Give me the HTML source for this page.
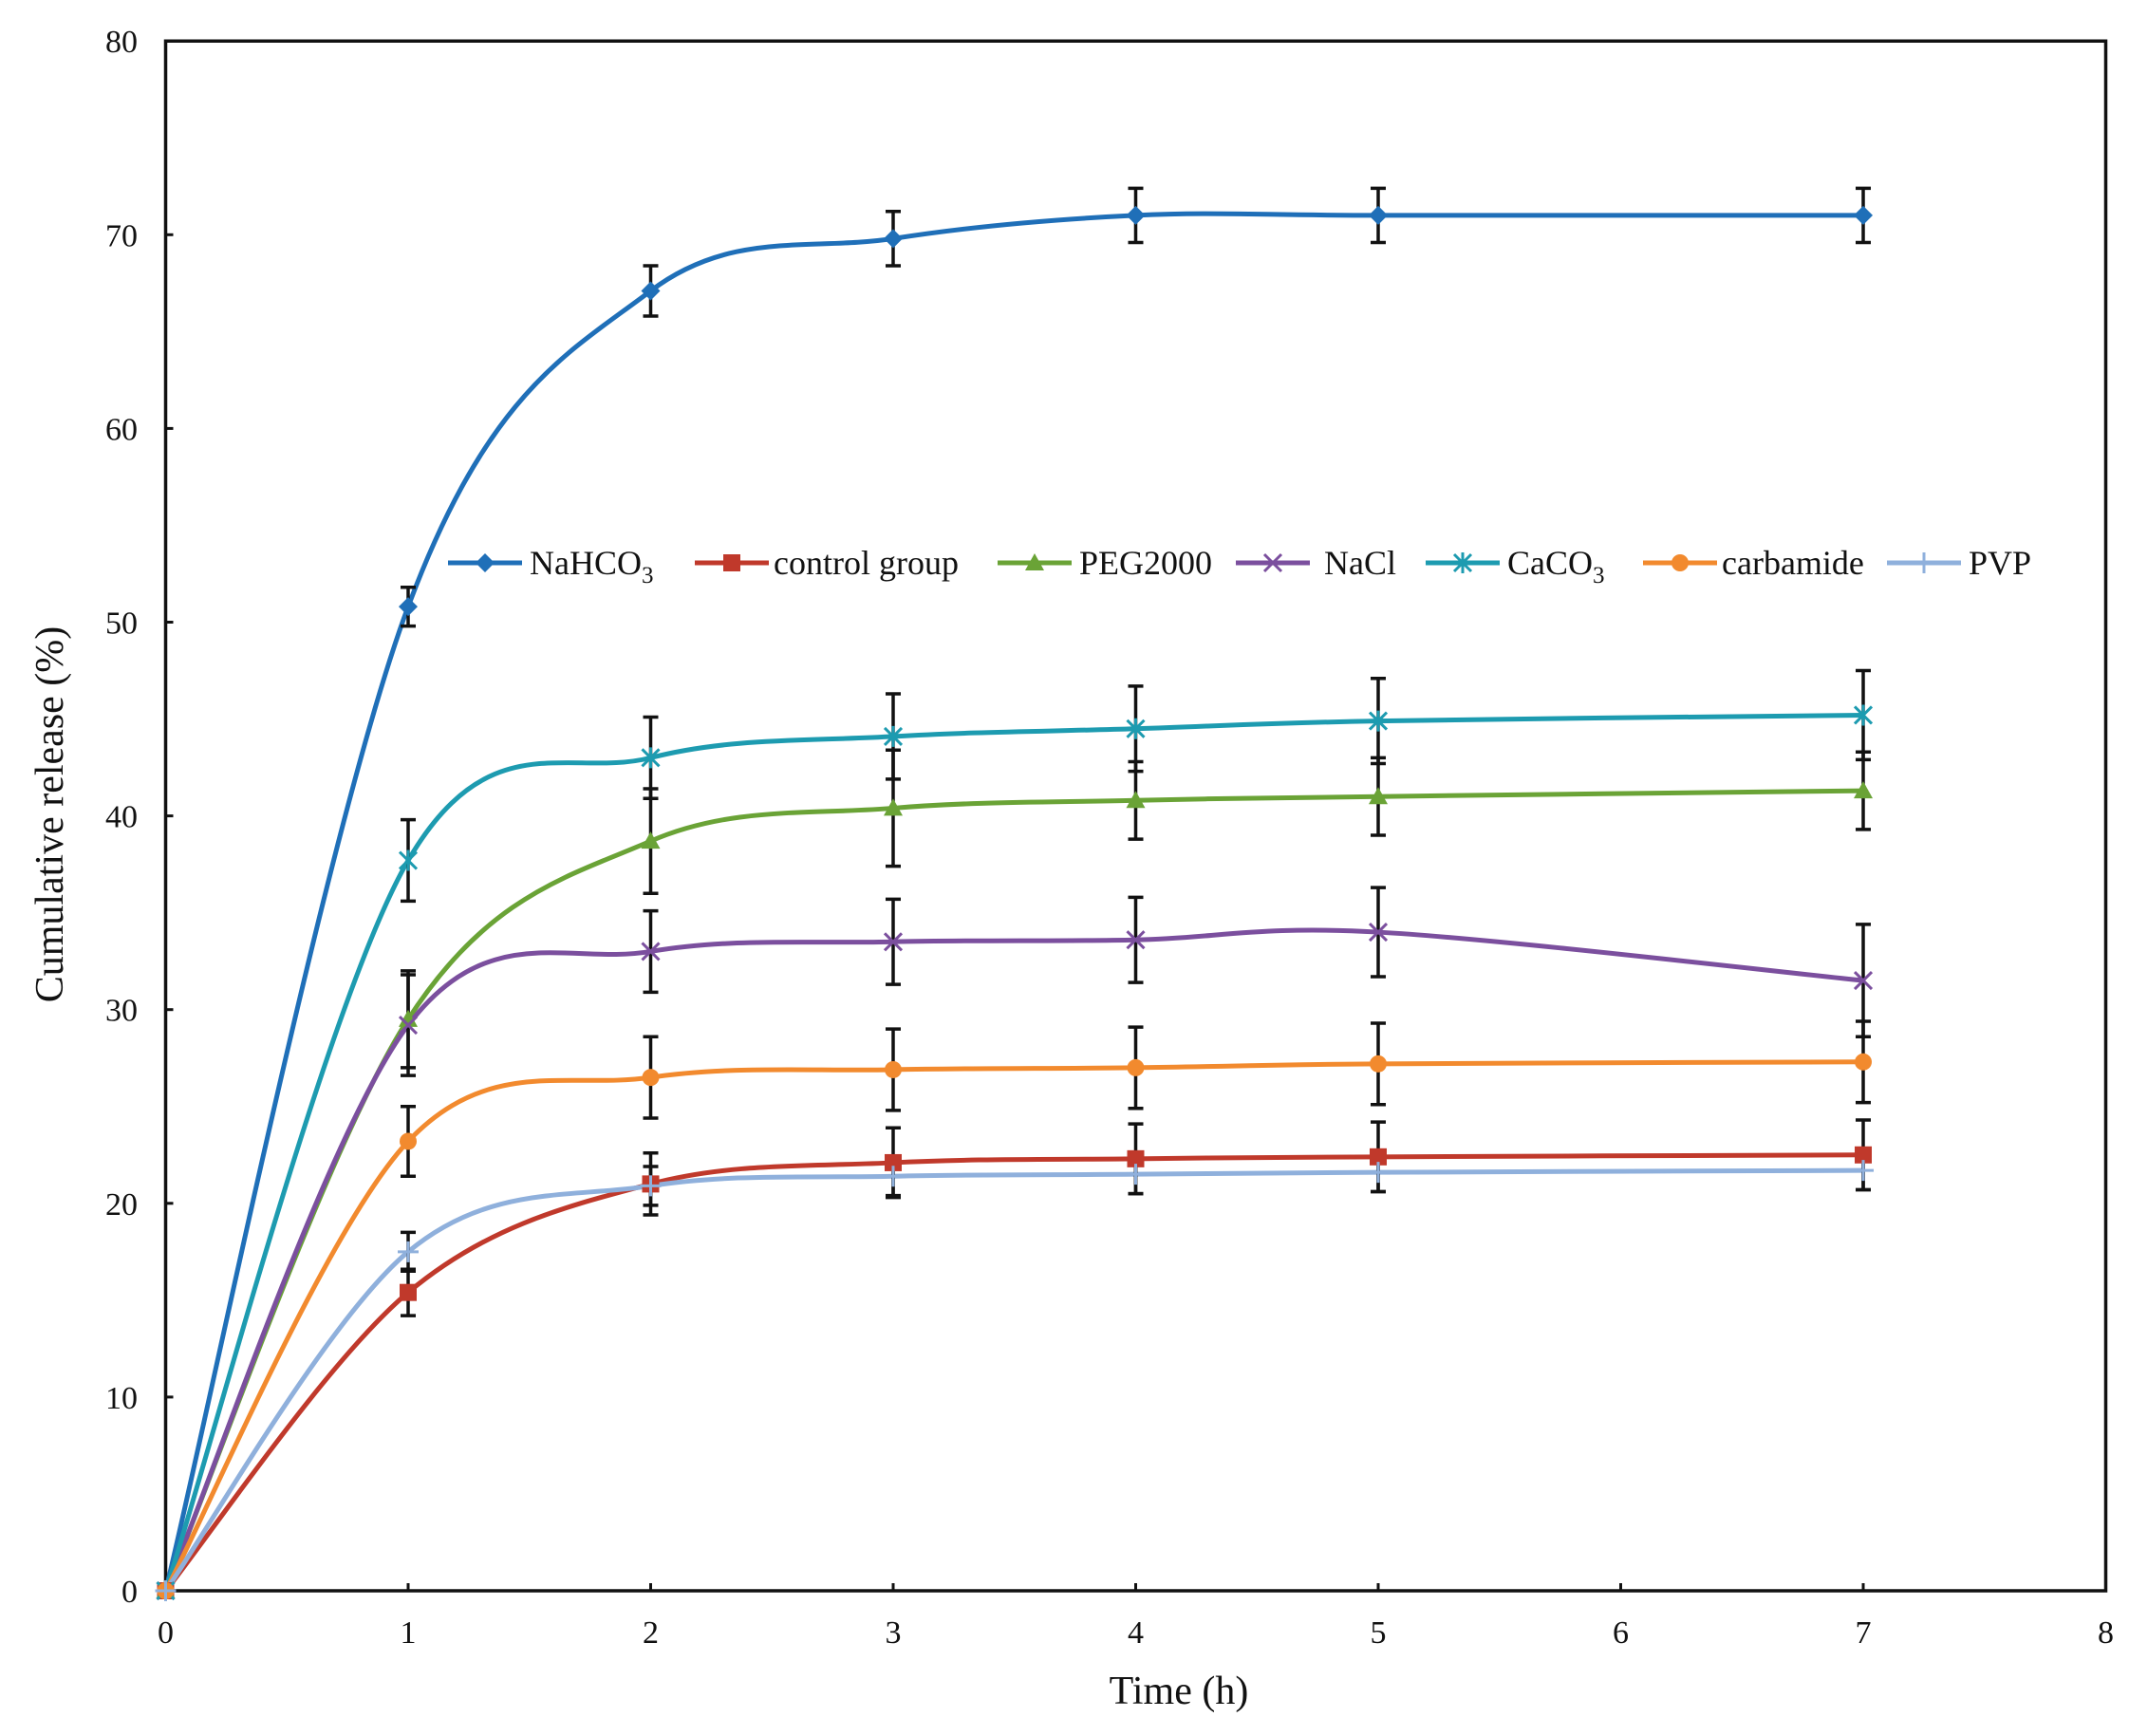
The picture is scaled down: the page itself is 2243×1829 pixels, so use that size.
<!DOCTYPE html>
<html><head><meta charset="utf-8"><style>body{margin:0;background:#fff}svg{display:block}text{font-family:"Liberation Serif",serif;fill:#111}</style></head>
<body>
<svg id="s" width="2243" height="1829" xmlns="http://www.w3.org/2000/svg"></svg>
<script>
const X0=174.5,XU=255.5,Y0=1676,YU=20.41;
const sx=t=>X0+t*XU, sy=v=>Y0-v*YU;
const T=[0,1,2,3,4,5,7];
const S=[
{n:'NaHCO3',c:'#1f6fb8',m:'d',v:[0,50.8,67.1,69.8,71,71,71],e:[0,1,1.3,1.4,1.4,1.4,1.4]},
{n:'control group',c:'#c0392b',m:'s',v:[0,15.4,21,22.1,22.3,22.4,22.5],e:[0,1.2,1.6,1.8,1.8,1.8,1.8]},
{n:'PEG2000',c:'#6aa336',m:'t',v:[0,29.5,38.7,40.4,40.8,41,41.3],e:[0,2.5,2.7,3,2,2,2]},
{n:'NaCl',c:'#7b4f9e',m:'x',v:[0,29.2,33,33.5,33.6,34,31.5],e:[0,2.6,2.1,2.2,2.2,2.3,2.9]},
{n:'CaCO3',c:'#1d9bb0',m:'a',v:[0,37.7,43,44.1,44.5,44.9,45.2],e:[0,2.1,2.1,2.2,2.2,2.2,2.3]},
{n:'carbamide',c:'#f28a2e',m:'o',v:[0,23.2,26.5,26.9,27,27.2,27.3],e:[0,1.8,2.1,2.1,2.1,2.1,2.1]},
{n:'PVP',c:'#8fb0dc',m:'p',v:[0,17.5,20.9,21.4,21.5,21.6,21.7],e:[0,1,1,1,1,1,1]}];
let h='';
h+=`<path d="M${sx(0)} ${sy(80)}H${sx(8)}V${sy(0)}H${sx(0)}Z" fill="none" stroke="#111" stroke-width="3.5"/>`;
for(let i=0;i<=8;i++){h+=`<line x1="${sx(i)}" y1="${Y0}" x2="${sx(i)}" y2="${Y0-8}" stroke="#111" stroke-width="3"/><text x="${sx(i)}" y="1731" font-size="34" text-anchor="middle">${i}</text>`;}
for(let i=0;i<=80;i+=10){h+=`<line x1="${X0}" y1="${sy(i)}" x2="${X0+8}" y2="${sy(i)}" stroke="#111" stroke-width="3"/><text x="145" y="${sy(i)+12}" font-size="34" text-anchor="end">${i}</text>`;}
h+=`<text x="1242" y="1795" font-size="42" text-anchor="middle">Time (h)</text>`;
h+=`<text transform="translate(66,858) rotate(-90)" font-size="42" text-anchor="middle">Cumulative release (%)</text>`;
function mk(m,c,x,y){
 if(m=='d')return `<path d="M${x} ${y-10}L${x+10} ${y}L${x} ${y+10}L${x-10} ${y}Z" fill="${c}"/>`;
 if(m=='s')return `<rect x="${x-9}" y="${y-9}" width="18" height="18" fill="${c}"/>`;
 if(m=='t')return `<path d="M${x} ${y-10}L${x+10} ${y+8}L${x-10} ${y+8}Z" fill="${c}"/>`;
 if(m=='o')return `<circle cx="${x}" cy="${y}" r="9" fill="${c}"/>`;
 if(m=='x')return `<path d="M${x-9} ${y-9}L${x+9} ${y+9}M${x+9} ${y-9}L${x-9} ${y+9}" stroke="${c}" stroke-width="3"/>`;
 if(m=='a')return `<path d="M${x-9} ${y-9}L${x+9} ${y+9}M${x+9} ${y-9}L${x-9} ${y+9}M${x} ${y-11}V${y+11}" stroke="${c}" stroke-width="3"/>`;
 return `<path d="M${x-11} ${y}H${x+11}M${x} ${y-11}V${y+11}" stroke="${c}" stroke-width="3"/>`;
}
function curve(P){let d=`M${P[0][0]} ${P[0][1]}`;const k=1/6;
 for(let i=0;i<P.length-1;i++){const p0=P[Math.max(0,i-1)],p1=P[i],p2=P[i+1],p3=P[Math.min(P.length-1,i+2)];
 d+=`C${p1[0]+(p2[0]-p0[0])*k} ${p1[1]+(p2[1]-p0[1])*k} ${p2[0]-(p3[0]-p1[0])*k} ${p2[1]-(p3[1]-p1[1])*k} ${p2[0]} ${p2[1]}`;}return d;}
let eb='',ln='',mks='';
S.forEach(s=>{const P=T.map((t,i)=>[sx(t),sy(s.v[i])]);
 ln+=`<path d="${curve(P)}" fill="none" stroke="${s.c}" stroke-width="5"/>`;
 P.forEach((p,i)=>{if(s.e[i]){const a=sy(s.v[i]+s.e[i]),b=sy(s.v[i]-s.e[i]);eb+=`<path d="M${p[0]} ${a}V${b}M${p[0]-8} ${a}H${p[0]+8}M${p[0]-8} ${b}H${p[0]+8}" stroke="#111" stroke-width="3.5" fill="none"/>`;}
 mks+=mk(s.m,s.c,p[0],p[1]);});});
h+=ln+eb+mks;
const L=[[472,558],[732,815],[1051,1137],[1302,1395],[1502,1588],[1731,1814],[1988,2074]];
const labels=['NaHCO<tspan font-size="25" dy="9">3</tspan>','control group','PEG2000','NaCl','CaCO<tspan font-size="25" dy="9">3</tspan>','carbamide','PVP'];
S.forEach((s,i)=>{const [a,t]=L[i],y=593;h+=`<line x1="${a}" y1="${y}" x2="${a+78}" y2="${y}" stroke="${s.c}" stroke-width="5"/>`+mk(s.m,s.c,a+39,y)+`<text x="${t}" y="${y+12}" font-size="36">${labels[i]}</text>`;});
document.getElementById('s').innerHTML=h;
</script>
</body></html>
